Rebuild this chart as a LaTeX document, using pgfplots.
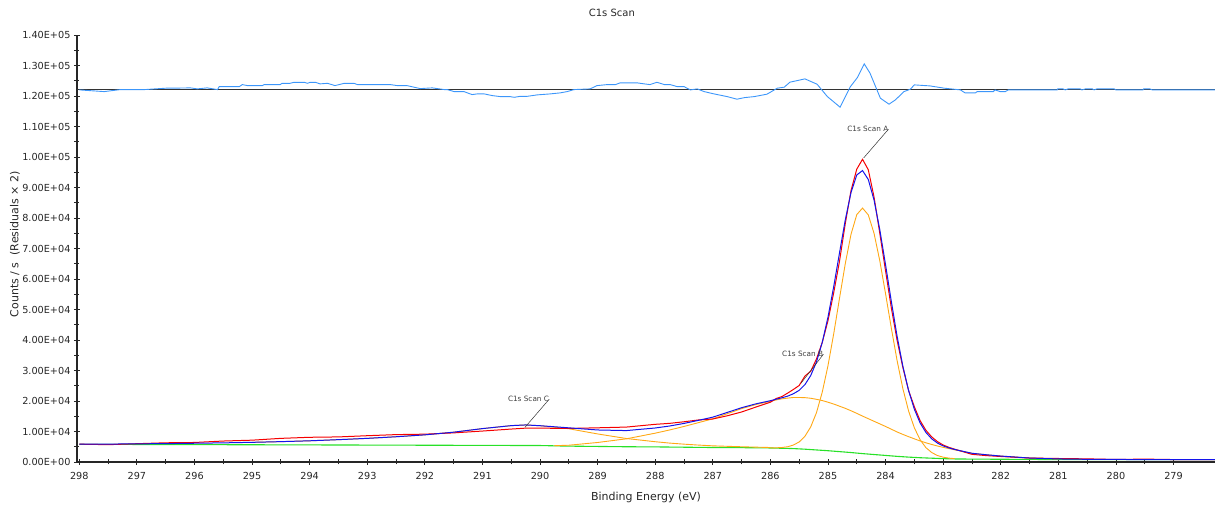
\documentclass[border=0pt]{standalone}
\usepackage{fontspec}
\setmainfont{DejaVu Sans}
\usepackage{pgfplots}
\usepackage{pgfplotstable}
\pgfplotsset{compat=1.18}

\definecolor{envblue}{RGB}{20,20,235}
\definecolor{datared}{RGB}{245,0,0}
\definecolor{comporange}{RGB}{255,168,20}
\definecolor{bggreen}{RGB}{40,225,40}
\definecolor{resblue}{RGB}{60,150,250}

% Shirley-type background
\pgfplotstableread{
be    cps
298.0 5800
297.0 5750
296.0 5700
295.0 5650
294.0 5600
293.0 5550
292.0 5500
291.0 5450
290.0 5400
289.5 5200
289.0 5100
288.5 5000
288.0 4950
287.5 4850
287.0 4750
286.5 4700
286.0 4600
285.8 4500
285.6 4400
285.4 4200
285.2 3950
285.0 3700
284.8 3400
284.6 3100
284.4 2750
284.2 2450
284.0 2150
283.8 1850
283.6 1600
283.4 1400
283.2 1250
283.0 1100
282.8 1000
282.5 950
282.0 900
281.5 850
281.0 800
280.0 800
279.0 800
278.28 800
}\background

% component A (C-C), drawn on the background
\pgfplotstableread{
be    cps
286.0 4645
285.9 4656
285.8 4750
285.7 5000
285.6 5560
285.5 6580
285.4 8430
285.3 11500
285.2 16160
285.1 22850
285.0 31570
284.9 42090
284.8 53640
284.7 64990
284.6 74650
284.5 81110
284.4 83250
284.3 81020
284.2 74960
284.1 65930
284.0 55140
283.9 43880
283.8 33270
283.7 24070
283.6 16710
283.5 11190
283.4 7300
283.3 4710
283.2 3120
283.1 2120
283.0 1580
282.9 1275
282.8 1100
}\compA

% component B
\pgfplotstableread{
be     cps
289.75 5350
289.5  5500
289.0  6400
288.5  7600
288.0  9450
287.75 10500
287.5  11650
287.25 12900
287.0  14150
286.75 15825
286.5  17500
286.25 18850
286.0  19900
285.9  20350
285.8  20700
285.7  20950
285.6  21150
285.5  21150
285.4  21100
285.3  20900
285.2  20550
285.1  20150
285.0  19600
284.9  19000
284.8  18300
284.7  17600
284.6  16800
284.5  15950
284.4  15050
284.3  14200
284.2  13350
284.1  12500
284.0  11650
283.9  10750
283.8  9850
283.7  9050
283.6  8300
283.5  7600
283.4  6900
283.3  6300
283.2  5750
283.1  5250
283.0  4800
282.9  4400
282.8  4000
282.5  2850
282.25 2375
282.0  1950
281.5  1300
281.0  1000
}\compB

% component C
\pgfplotstableread{
be     cps
295.0  6450
294.5  6675
294.0  6950
293.5  7325
293.0  7750
292.5  8275
292.0  8900
291.5  9775
291.0  10950
290.5  11925
290.25 12150
290.0  11900
289.5  10900
289.0  9200
288.5  7700
288.0  6650
287.75 6200
287.5  5850
287.25 5550
287.0  5300
286.75 5145
286.5  5000
286.25 4870
286.0  4750
}\compC

% fitted envelope and measured counts
\pgfplotstableread{
be     fit    data
298.0  5850   5850
297.5  5875   5675
297.0  5950   6000
296.5  6025   6300
296.0  6150   6400
295.5  6275   6875
295.0  6450   7155
294.5  6675   7750
294.0  6950   8100
293.5  7325   8225
293.0  7750   8620
292.5  8275   8980
292.0  8900   9125
291.5  9775   9550
291.0  10950  10150
290.5  11925  10800
290.25 12150  11100
290.0  11900  11100
289.5  11200  11000
289.0  10500  11210
288.5  10300  11450
288.0  11150  12350
287.75 11800  12670
287.5  12650  13190
287.25 13650  13775
287.0  14700  14100
286.75 16245  15145
286.5  17800  16400
286.25 19075  18025
286.0  20095  19600
285.9  20586  20810
285.8  21060  21460
285.7  21590  22590
285.6  22385  23785
285.5  23490  25090
285.4  25380  28185
285.3  28340  29740
285.2  32790  33765
285.1  39170  39170
285.0  47480  46330
284.9  57540  55540
284.8  68540  65790
284.7  79340  78090
284.6  88350  89000
284.5  94110  96010
284.4  95550  99250
284.3  92620  95820
284.2  85860  86860
284.1  76130  74930
284.0  64640  62640
283.9  52630  50530
283.8  41270  39920
283.7  31420  31020
283.6  23410  23410
283.5  17290  18110
283.4  12800  13550
283.3  9710   10410
283.2  7620   8245
283.1  6220   6695
283.0  5280   5580
282.9  4625   4800
282.8  4100   4200
282.5  2860   2510
282.25 2375   2095
282.0  1950   1800
281.5  1300   1300
281.0  1000   1150
280.5  880    1030
280.0  830    830
279.5  800    950
279.0  800    800
278.28 800    800
}\envelope

% residuals x 2, offset to 1.22E+05
\pgfplotstableread{
be     res
298.0  122000
297.57 121440
297.29 122100
296.87 122100
296.47 122590
296.30 122590
296.07 122660
295.95 122330
295.78 122660
295.60 122100
295.57 123080
295.22 123080
295.17 123740
295.08 123410
294.82 123410
294.79 123740
294.51 123740
294.48 124160
294.34 124160
294.27 124490
294.09 124490
294.04 124160
293.99 124490
293.90 124490
293.82 123970
293.69 124160
293.56 123410
293.40 124160
293.23 124160
293.17 123740
292.60 123740
292.48 123410
292.31 123410
292.08 122430
291.87 122660
291.66 122100
291.61 122100
291.49 121440
291.32 121440
291.18 120460
291.09 120690
290.97 120690
290.83 120130
290.69 119800
290.52 119800
290.45 119570
290.34 119900
290.22 119900
290.05 120360
289.82 120690
289.65 121020
289.53 121440
289.41 122100
289.13 122330
289.01 123410
288.83 123740
288.69 123740
288.61 124300
288.31 124300
288.19 123970
288.09 123740
287.97 124490
287.84 123740
287.74 123740
287.62 123080
287.50 123080
287.39 122000
287.27 122330
287.15 121440
286.98 120690
286.75 119800
286.58 118950
286.45 119470
286.28 119800
286.06 120590
285.88 122560
285.76 122890
285.66 124530
285.40 125610
285.19 123870
285.01 119800
284.79 116330
284.61 123080
284.49 126030
284.37 130530
284.27 127480
284.09 119280
283.94 117310
283.83 118720
283.68 121440
283.57 122230
283.50 123640
283.23 123310
282.98 122560
282.70 122000
282.62 121020
282.44 121020
282.41 121440
282.13 121440
282.10 122000
282.01 121440
281.92 121440
281.87 122000
281.02 122000
281.01 122330
280.92 122330
280.88 122000
280.83 122330
280.62 122330
280.59 122000
280.53 122330
280.41 122330
280.38 122000
280.33 122330
280.03 122330
280.00 122000
279.53 122000
279.52 122330
279.41 122330
279.37 122000
278.28 122000
}\residuals

\begin{document}
\begin{tikzpicture}
\begin{axis}[
  scale only axis,
  width=1138pt, height=427pt,
  x dir=reverse,
  xmin=278.28, xmax=298.04,
  ymin=0, ymax=140000,
  axis x line=bottom, axis y line=left,
  axis line style={-, line width=1.1pt, black!85},
  tick align=center,
  major tick length=6pt, minor tick length=5pt,
  tick style={black!85, line width=0.8pt},
  xtick={279,280,...,298}, minor x tick num=1,
  ytick={0,10000,...,140000}, minor y tick num=1,
  scaled y ticks=false,
  yticklabels={0.00E+00,1.00E+04,2.00E+04,3.00E+04,4.00E+04,5.00E+04,6.00E+04,7.00E+04,8.00E+04,9.00E+04,1.00E+05,1.10E+05,1.20E+05,1.30E+05,1.40E+05},
  /pgf/number format/assume math mode=true,
  /pgf/number format/.cd, int detect, 1000 sep={}, /pgfplots/.cd,
  ticklabel style={font=\fontsize{9.7}{11}\selectfont, text=black!85},
  xticklabel style={yshift=-4pt},
  title={C1s Scan},
  title style={at={(axis description cs:0.47,1.037)}, anchor=center, font=\fontsize{10}{12}\selectfont, text=black!85},
  xlabel={Binding Energy (eV)},
  xlabel style={at={(axis description cs:0.5,-0.084)}, anchor=center, font=\fontsize{11}{13}\selectfont, text=black!85},
  ylabel={Counts / s\ \ (Residuals × 2)},
  ylabel style={at={(axis description cs:-0.0545,0.51)}, anchor=center, font=\fontsize{11}{13}\selectfont, text=black!85},
  clip=true,
]
% residual reference line and residuals
\addplot[black!80, line width=1.2pt] coordinates {(298.04,122000) (278.28,122000)};
\addplot[resblue, line width=0.9pt] table[x=be, y=res] {\residuals};

% background and components
\addplot[bggreen, line width=1.1pt] table[x=be, y=cps] {\background};
\addplot[comporange, line width=0.9pt] table[x=be, y=cps] {\compC};
\addplot[comporange, line width=0.9pt] table[x=be, y=cps] {\compB};
\addplot[comporange, line width=0.9pt] table[x=be, y=cps] {\compA};

% measured counts and fitted envelope
\addplot[datared, line width=1pt] table[x=be, y=data] {\envelope};
\addplot[envblue, line width=1pt] table[x=be, y=fit] {\envelope};

% peak labels
\draw[black!80, line width=0.5pt] (axis cs:283.95,109100) -- (axis cs:284.38,99700);
\node[anchor=south east, inner sep=0pt, font=\fontsize{7.3}{8}\selectfont, text=black!75] at (axis cs:283.95,108400) {C1s Scan A};
\draw[black!80, line width=0.5pt] (axis cs:285.08,35300) -- (axis cs:285.47,25800);
\node[anchor=south east, inner sep=0pt, font=\fontsize{7.3}{8}\selectfont, text=black!75] at (axis cs:285.08,34600) {C1s Scan B};
\draw[black!80, line width=0.5pt] (axis cs:289.84,20600) -- (axis cs:290.26,11400);
\node[anchor=south east, inner sep=0pt, font=\fontsize{7.3}{8}\selectfont, text=black!75] at (axis cs:289.84,19700) {C1s Scan C};
\end{axis}
\pgfresetboundingbox
\path[use as bounding box] ([xshift=-77pt,yshift=-46pt]current axis.south west) rectangle ([yshift=35pt]current axis.north east);
\end{tikzpicture}
\end{document}
